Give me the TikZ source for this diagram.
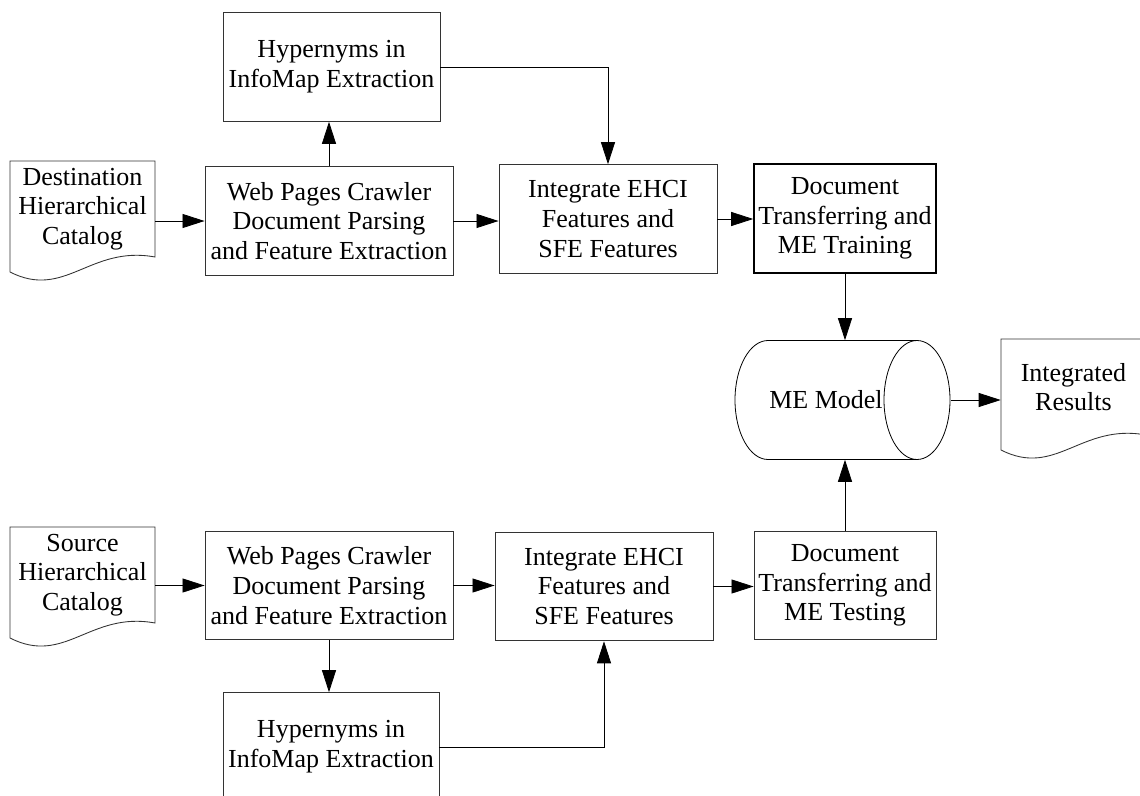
\documentclass[tikz,border=0pt]{standalone}
\usepackage{fontspec}
\setmainfont{Liberation Serif}
\usetikzlibrary{arrows.meta}
\begin{document}
\begin{tikzpicture}[x=0.75pt,y=-0.75pt,
  every node/.style={font=\fontsize{19.5}{22.3}\selectfont, align=center, inner sep=0pt},
  proc/.style={draw=black!80, line width=0.65pt, rectangle, minimum width=#1*0.75pt, minimum height=81.5pt},
  proc/.default=218,
  strongproc/.style={proc=182, draw=black, line width=1.2pt},
  doctext/.style={rectangle, minimum width=108.75pt, minimum height=72pt},
  docoutline/.pic={
    \draw[black!80, line width=0.65pt] (-72.5,-48) -- (72.5,-48) -- (72.5,48)
      .. controls (7.5,36) and (-17.5,91) .. (-72.5,63) -- cycle;
  },
  flow/.style={-{Triangle[length=16.5pt,width=10.5pt]}, line width=0.6pt, black}
]
\useasboundingbox (0,0) rectangle (1140,796);

% upper chain (training)
\node[proc=217] (hypT) at (331.5,67) {Hypernyms in\\InfoMap Extraction};
\node[proc=248] (webT) at (329,221) {Web Pages Crawler\\Document Parsing\\and Feature Extraction};
\node[proc] (intT) at (608,219) {Integrate EHCI\\Features and\\SFE Features};
\node[strongproc] (train) at (845,218.5) {Document\\Transferring and\\ME Training};
\pic at (82.5,209) {docoutline};
\node[doctext] (dest) at (82.5,209) {Destination\\Hierarchical\\Catalog};

% lower chain (testing)
\node[proc=248] (webB) at (329,585.5) {Web Pages Crawler\\Document Parsing\\and Feature Extraction};
\node[proc] (intB) at (604,586.5) {Integrate EHCI\\Features and\\SFE Features};
\node[proc=182] (test) at (845,585.5) {Document\\Transferring and\\ME Testing};
\node[proc=216] (hypB) at (331,747) {Hypernyms in\\InfoMap Extraction};
\pic at (82.5,575) {docoutline};
\node[doctext] (src) at (82.5,575) {Source\\Hierarchical\\Catalog};

% model cylinder, lying on its side
\node[rectangle, minimum width=162pt, minimum height=89.25pt] (model) at (843,400) {};
\draw[black, line width=0.6pt] (917,340.5) -- (768,340.5)
  arc[start angle=90, end angle=270, x radius=24.75pt, y radius=44.625pt] -- (917,459.5);
\draw[black, line width=0.6pt] (917,400) ellipse[x radius=24.75pt, y radius=44.625pt];
\node (modeltext) at (826,400) {ME Model};

% result document
\pic at (1073.5,387) {docoutline};
\node[doctext] (res) at (1073.5,387) {Integrated\\Results};

% connectors, upper chain
\draw[flow] (webT.north) -- (hypT.south -| webT.north);
\draw[flow] (hypT.east) -| (intT.north);
\draw[flow] (webT.west -| dest.east) -- (webT.west);
\draw[flow] (webT.east) -- (webT.east -| intT.west);
\draw[flow] (intT.east) -- (intT.east -| train.west);
\draw[flow] (train.south) -- (train.south |- model.north);

% connectors, lower chain
\draw[flow] (webB.west -| src.east) -- (webB.west);
\draw[flow] (webB.east) -- (webB.east -| intB.west);
\draw[flow] (intB.east) -- (intB.east -| test.west);
\draw[flow] (webB.south) -- (hypB.north -| webB.south);
\draw[flow] (hypB.east) -| (intB.south);
\draw[flow] (test.north) -- (test.north |- model.south);

% model to results
\draw[flow] (model.east) -- (model.east -| res.west);
\end{tikzpicture}
\end{document}
